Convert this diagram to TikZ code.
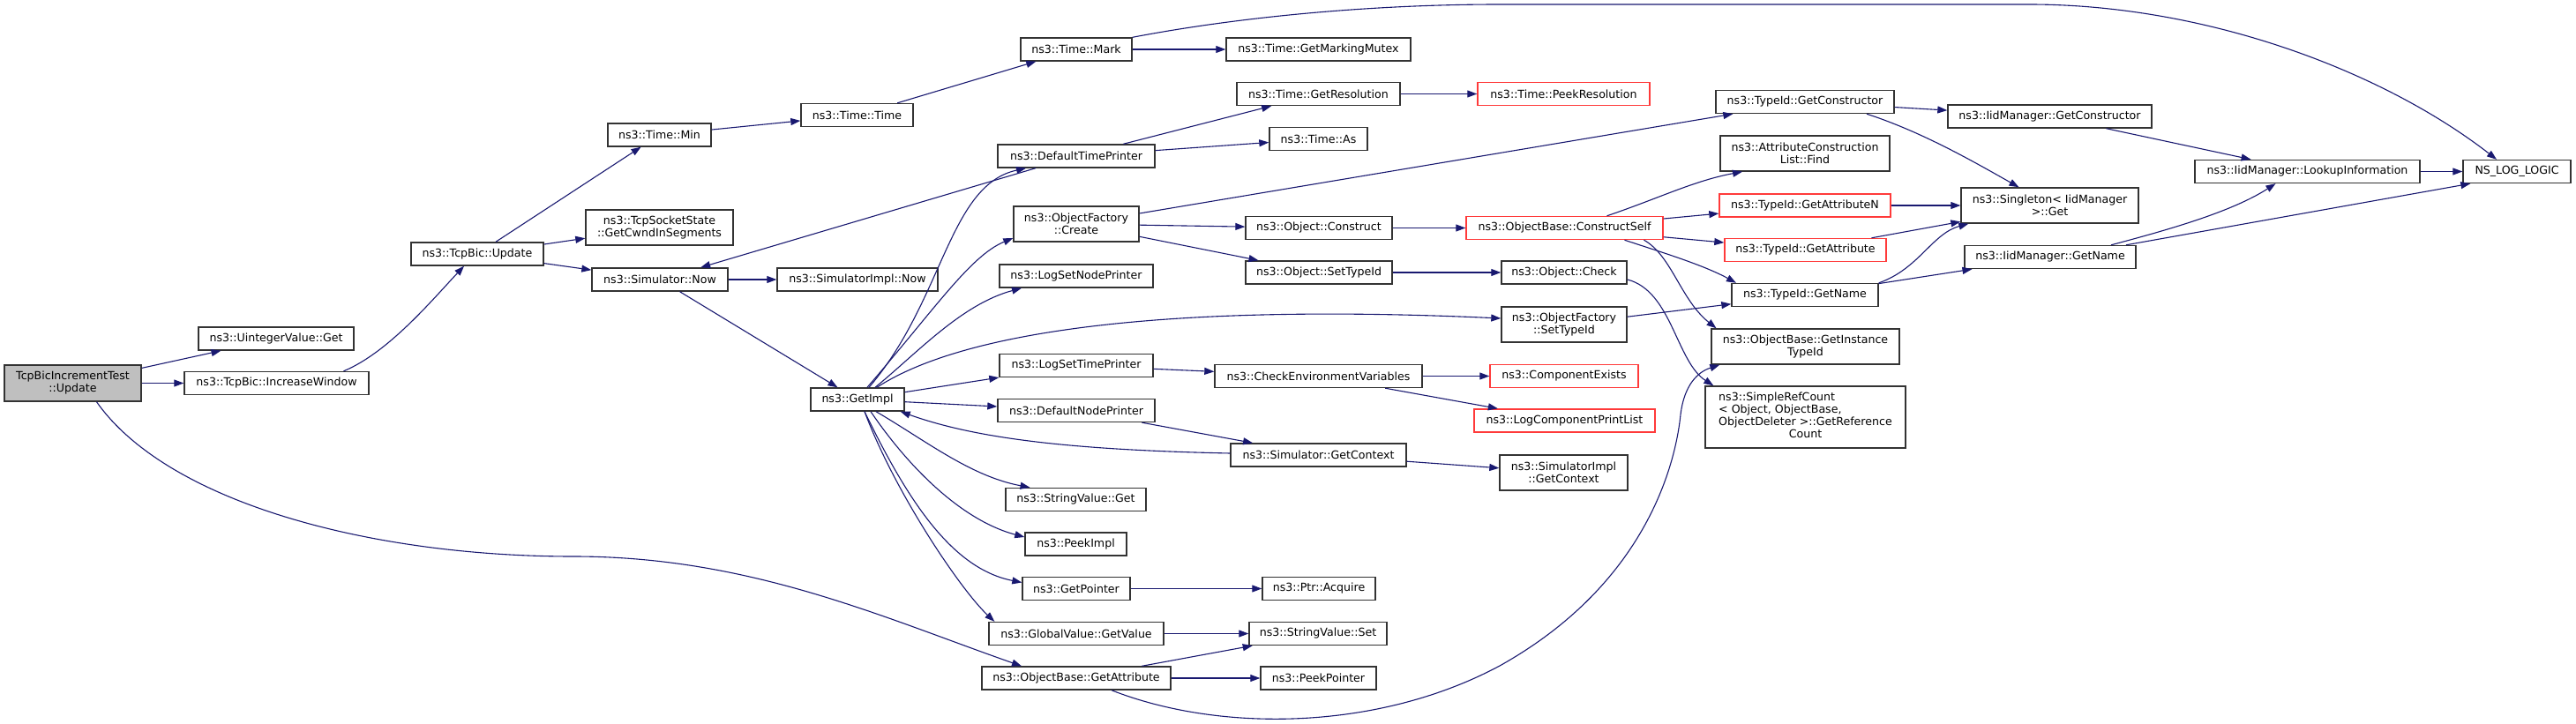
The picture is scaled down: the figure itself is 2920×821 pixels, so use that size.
\documentclass[tikz,border=0pt]{standalone}
\usepackage{fontspec}
\setmainfont{DejaVu Sans}
\usepackage{tikz}
\usetikzlibrary{arrows.meta, positioning}
\definecolor{edgeblue}{HTML}{191970}
\definecolor{cgray}{HTML}{BFBFBF}
\definecolor{cred}{HTML}{FF3A3A}

\begin{document}
\begin{tikzpicture}[
    x=1pt, y=-1pt,
    fn/.style={rectangle, draw=black!80, line width=1.4pt, fill=white, inner sep=1pt,
               minimum height=26pt, align=center, font=\fontsize{12.6pt}{14pt}\selectfont},
    fnred/.style={fn, draw=cred},
    call/.style={-{Triangle[length=11pt, width=8pt]}, edgeblue, line width=1.1pt}
]
\useasboundingbox (0,0) rectangle (2920,821);

% column 0-2
\node[fn, fill=cgray, minimum width=155pt, minimum height=41pt] (tbit) at (82.5,434.5) {TcpBicIncrementTest\\::Update};
\node[fn, minimum width=176pt] (uvget)  at (313,384)     {ns3::UintegerValue::Get};
\node[fn, minimum width=209pt] (incwin) at (313.5,434.5) {ns3::TcpBic::IncreaseWindow};
\node[fn, minimum width=150pt] (bicupd) at (541,288)     {ns3::TcpBic::Update};

% column 3-4
\node[fn, minimum width=117pt] (tmin)   at (747.5,153) {ns3::Time::Min};
\node[fn, minimum width=167pt, minimum height=40pt] (cwnd) at (747.5,258) {ns3::TcpSocketState\\::GetCwndInSegments};
\node[fn, minimum width=154pt] (simnow) at (748,317)   {ns3::Simulator::Now};
\node[fn, minimum width=127pt] (ttime)      at (971.5,130.5) {ns3::Time::Time};
\node[fn, minimum width=182pt] (simimplnow) at (972,317)     {ns3::SimulatorImpl::Now};
\node[fn, minimum width=106pt] (getimpl)    at (972,453)     {ns3::GetImpl};

% column 5
\node[fn, minimum width=126pt] (tmark)     at (1220,56)    {ns3::Time::Mark};
\node[fn, minimum width=178pt] (dtp)       at (1220,177)   {ns3::DefaultTimePrinter};
\node[fn, minimum width=142pt, minimum height=40pt] (ofcreate) at (1220,254) {ns3::ObjectFactory\\::Create};
\node[fn, minimum width=174pt] (lsnp)      at (1220,313)   {ns3::LogSetNodePrinter};
\node[fn, minimum width=174pt] (lstp)      at (1220,414.5) {ns3::LogSetTimePrinter};
\node[fn, minimum width=178pt] (dnp)       at (1220,465.5) {ns3::DefaultNodePrinter};
\node[fn, minimum width=159pt] (svget)     at (1219.5,566.5) {ns3::StringValue::Get};
\node[fn, minimum width=115pt] (peekimpl)  at (1219.5,617) {ns3::PeekImpl};
\node[fn, minimum width=122pt] (getptr)    at (1220,667.5) {ns3::GetPointer};
\node[fn, minimum width=198pt] (gvget)     at (1220,718.5) {ns3::GlobalValue::GetValue};
\node[fn, minimum width=214pt] (obgetattr) at (1220,769)   {ns3::ObjectBase::GetAttribute};

% column 6
\node[fn, minimum width=209pt] (gmm)          at (1494.5,56)    {ns3::Time::GetMarkingMutex};
\node[fn, minimum width=185pt] (tgetres)      at (1494.5,106.5) {ns3::Time::GetResolution};
\node[fn, minimum width=111pt] (tas)          at (1494.5,157.5) {ns3::Time::As};
\node[fn, minimum width=166pt] (objconstruct) at (1495,258.5)   {ns3::Object::Construct};
\node[fn, minimum width=166pt] (objsettid)    at (1495,309)     {ns3::Object::SetTypeId};
\node[fn, minimum width=235pt] (checkenv)     at (1494.5,426.5) {ns3::CheckEnvironmentVariables};
\node[fn, minimum width=199pt] (simgetctx)    at (1494.5,516)   {ns3::Simulator::GetContext};
\node[fn, minimum width=128pt] (ptracq)       at (1495,667.5)   {ns3::Ptr::Acquire};
\node[fn, minimum width=156pt] (svset)        at (1494,718.5)   {ns3::StringValue::Set};
\node[fn, minimum width=131pt] (peekptr)      at (1494.5,769)   {ns3::PeekPointer};

% column 7
\node[fnred, minimum width=195pt] (tpeekres)   at (1772.5,106.5) {ns3::Time::PeekResolution};
\node[fnred, minimum width=223pt] (cself)      at (1773.5,258.5) {ns3::ObjectBase::ConstructSelf};
\node[fn, minimum width=142pt]    (objcheck)   at (1773,309)     {ns3::Object::Check};
\node[fn, minimum width=142pt, minimum height=40pt] (ofsettid) at (1773,368) {ns3::ObjectFactory\\::SetTypeId};
\node[fnred, minimum width=168pt] (compexists) at (1773,426.5)   {ns3::ComponentExists};
\node[fnred, minimum width=205pt] (lcpl)       at (1773.5,477)   {ns3::LogComponentPrintList};
\node[fn, minimum width=145pt, minimum height=40pt] (simimplctx) at (1772.5,536) {ns3::SimulatorImpl\\::GetContext};

% column 8
\node[fn, minimum width=202pt]    (tgetctor)  at (2046,115.5) {ns3::TypeId::GetConstructor};
\node[fn, minimum width=192pt, minimum height=40pt] (acfind) at (2046,174) {ns3::AttributeConstruction\\List::Find};
\node[fnred, minimum width=194pt] (tgetattrn) at (2046,233)   {ns3::TypeId::GetAttributeN};
\node[fnred, minimum width=183pt] (tgetattr)  at (2046.5,283.5) {ns3::TypeId::GetAttribute};
\node[fn, minimum width=166pt]    (tgetname)  at (2046,334.5) {ns3::TypeId::GetName};
\node[fn, minimum width=213pt, minimum height=40pt] (gitid) at (2046.5,393) {ns3::ObjectBase::GetInstance\\TypeId};
\node[fn, minimum width=227pt, minimum height=70pt] (srcount) at (2046.5,473)
  {\begin{tabular}{@{}c@{}}\multicolumn{1}{@{}l@{}}{ns3::SimpleRefCount}\\
   \multicolumn{1}{@{}l@{}}{< Object, ObjectBase,}\\ ObjectDeleter >::GetReference\\ Count\end{tabular}};

% column 9-11
\node[fn, minimum width=231pt] (iidgetctor) at (2323.5,132) {ns3::IidManager::GetConstructor};
\node[fn, minimum width=201pt, minimum height=40pt] (singleton) at (2323.5,233) {ns3::Singleton< IidManager\\ >::Get};
\node[fn, minimum width=194pt] (iidgetname) at (2324,291.5)  {ns3::IidManager::GetName};
\node[fn, minimum width=255pt] (lookup)     at (2615.5,194.5) {ns3::IidManager::LookupInformation};
\node[fn, minimum width=122pt] (nslog)      at (2853,194.5)  {NS\_LOG\_LOGIC};

% calls
\draw[call] (tbit) -- (uvget);
\draw[call] (tbit) -- (incwin);
\draw[call] ([xshift=27pt]tbit.south) .. controls (190,570) and (420,631) .. (650,631)
            .. controls (850,631) and (1000,700) .. ([xshift=-62pt]obgetattr.north);
\draw[call] ([xshift=76pt]incwin.north) .. controls (440,400) and (490,340) .. ([xshift=-15pt]bicupd.south);
\draw[call] (bicupd) -- (tmin);
\draw[call] (bicupd) -- (cwnd);
\draw[call] (bicupd) -- (simnow);
\draw[call] (tmin) -- (ttime);
\draw[call] (ttime) -- (tmark);
\draw[call] (tmark) -- (gmm);
\draw[call] (tmark.north east) .. controls (1400,20) and (1550,5) .. (1700,5) -- (2300,5)
            .. controls (2500,5) and (2700,80) .. ([xshift=-23pt]nslog.north);
\draw[call] (simnow) -- (simimplnow);
\draw[call] (simnow) -- (getimpl);
\draw[call] (dtp) -- (simnow);
\draw[call] (dtp) -- (tgetres);
\draw[call] (dtp) -- (tas);
\draw[call] (tgetres) -- (tpeekres);
\draw[call] ([xshift=13pt]getimpl.north) .. controls (1070,340) and (1075,210) .. ([xshift=-57pt]dtp.south);
\draw[call] ([xshift=11pt]getimpl.north) .. controls (1060,350) and (1100,290) .. ([yshift=-16pt]ofcreate.west);
\draw[call] ([xshift=20pt]getimpl.north) .. controls (1040,400) and (1090,345) .. ([xshift=-62pt]lsnp.south);
\draw[call] ([xshift=22pt]getimpl.north) .. controls (1100,370) and (1350,345) .. ([yshift=7pt]ofsettid.west);
\draw[call] (getimpl) -- (lstp);
\draw[call] (getimpl) -- (dnp);
\draw[call] ([yshift=2pt]simgetctx.west) .. controls (1200,510) and (1100,495) .. ([xshift=-5pt]getimpl.south east);
\draw[call] ([xshift=21pt]getimpl.south) .. controls (1050,500) and (1100,540) .. ([xshift=-52pt]svget.north);
\draw[call] ([xshift=15pt]getimpl.south) .. controls (1030,530) and (1090,590) .. ([yshift=8pt]peekimpl.west);
\draw[call] ([xshift=8pt]getimpl.south) .. controls (1030,570) and (1080,645) .. ([yshift=7pt]getptr.west);
\draw[call] ([xshift=8pt]getimpl.south) .. controls (1015,560) and (1090,670) .. ([xshift=7pt]gvget.north west);
\draw[call] (ofcreate) -- (tgetctor);
\draw[call] (ofcreate) -- (objconstruct);
\draw[call] (ofcreate) -- (objsettid);
\draw[call] (objconstruct) -- (cself);
\draw[call] (objsettid) -- (objcheck);
\draw[call] ([yshift=-8pt]objcheck.east) .. controls (1895,330) and (1900,410) .. ([xshift=10pt]srcount.north west);
\draw[call] ([xshift=48pt]cself.north) .. controls (1880,225) and (1920,205) .. ([xshift=-71pt]acfind.south);
\draw[call] (cself) -- (tgetattrn);
\draw[call] (cself) -- (tgetattr);
\draw[call] ([xshift=68pt]cself.south) .. controls (1880,285) and (1930,300) .. ([xshift=-78pt]tgetname.north);
\draw[call] ([xshift=90pt]cself.south) .. controls (1895,290) and (1905,340) .. ([xshift=-101pt]gitid.north);
\draw[call] (tgetctor) -- (iidgetctor);
\draw[call] ([xshift=70pt]tgetctor.south) .. controls (2180,150) and (2240,185) .. ([xshift=-35pt]singleton.north);
\draw[call] (tgetattrn) -- (singleton);
\draw[call] (tgetattr) -- (singleton);
\draw[call] (tgetname.north east) .. controls (2175,305) and (2190,265) .. ([xshift=9pt]singleton.south west);
\draw[call] (tgetname) -- (iidgetname);
\draw[call] (iidgetctor) -- (lookup);
\draw[call] ([xshift=69pt]iidgetname.north) .. controls (2460,260) and (2530,240) .. ([xshift=-36pt]lookup.south);
\draw[call] ([xshift=86pt]iidgetname.north) -- ([xshift=9pt]nslog.south west);
\draw[call] (lookup) -- (nslog);
\draw[call] (ofsettid) -- (tgetname);
\draw[call] (lstp) -- (checkenv);
\draw[call] (checkenv) -- (compexists);
\draw[call] (checkenv) -- (lcpl);
\draw[call] (dnp) -- (simgetctx);
\draw[call] (simgetctx) -- (simimplctx);
\draw[call] (getptr) -- (ptracq);
\draw[call] (gvget) -- (svset);
\draw[call] (obgetattr) -- (svset);
\draw[call] (obgetattr) -- (peekptr);
\draw[call] ([xshift=40pt]obgetattr.south) .. controls (1380,830) and (1560,830) .. (1700,755)
            .. controls (1870,660) and (1900,520) .. (1905,470)
            .. controls (1910,430) and (1930,420) .. ([xshift=10pt]gitid.south west);
\end{tikzpicture}
\end{document}
